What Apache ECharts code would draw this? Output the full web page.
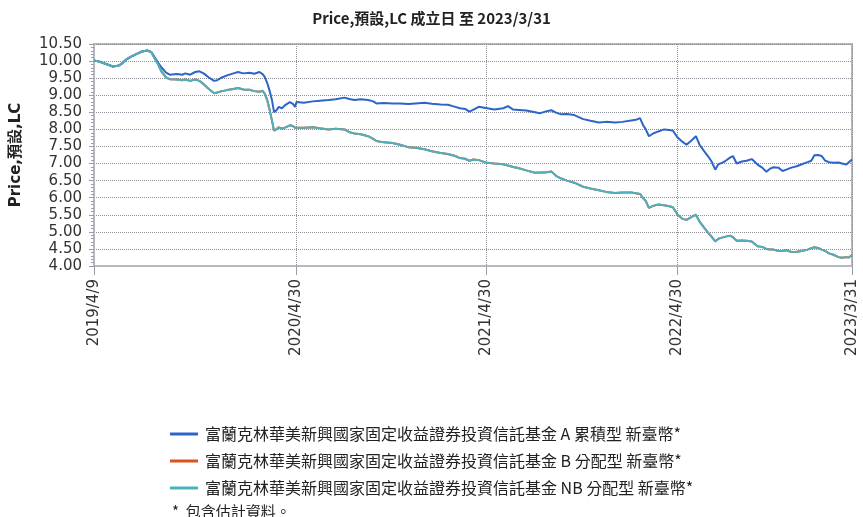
<!DOCTYPE html>
<html>
<head>
<meta charset="utf-8">
<script src="https://cdn.jsdelivr.net/npm/echarts@6/dist/echarts.min.js"></script>
<style>
  html, body { margin: 0; padding: 0; background: #fff; }
  #chart { width: 863px; height: 517px; }
</style>
</head>
<body>
<div id="chart"></div>
<script>
// ---- Data ----
const chartTitle = 'Price,預設,LC 成立日 至 2023/3/31';
const yAxisName = 'Price,預設,LC';
const seriesNames = [
  '富蘭克林華美新興國家固定收益證券投資信託基金 A 累積型 新臺幣*',
  '富蘭克林華美新興國家固定收益證券投資信託基金 B 分配型 新臺幣*',
  '富蘭克林華美新興國家固定收益證券投資信託基金 NB 分配型 新臺幣*'
];
const footnote = '*  包含估計資料。';
const xTickLabels = ['2019/4/9', '2020/4/30', '2021/4/30', '2022/4/30', '2023/3/31'];
const yTickLabels = ['4.00','4.50','5.00','5.50','6.00','6.50','7.00','7.50','8.00','8.50','9.00','9.50','10.00','10.50'];

const dates = [
  '2019-04-09','2019-04-20','2019-05-01','2019-05-15','2019-05-25','2019-06-01','2019-06-10','2019-06-20','2019-07-01','2019-07-10',
  '2019-07-20','2019-07-28','2019-08-03','2019-08-10','2019-08-16','2019-08-25','2019-09-01','2019-09-15','2019-09-25','2019-10-01',
  '2019-10-10','2019-10-20','2019-10-28','2019-11-05','2019-11-15','2019-11-25','2019-12-01','2019-12-10','2019-12-20',
  '2020-01-01','2020-01-10','2020-01-20','2020-02-01','2020-02-10','2020-02-20','2020-02-26',
  '2020-03-01','2020-03-06','2020-03-10','2020-03-15','2020-03-19','2020-03-23','2020-03-28',
  '2020-04-03','2020-04-10','2020-04-18','2020-04-24','2020-04-28',
  '2020-05-01','2020-05-15','2020-06-01','2020-06-15','2020-07-01','2020-07-15',
  '2020-08-01','2020-08-10','2020-08-20','2020-09-01','2020-09-15','2020-09-25',
  '2020-10-01','2020-10-15','2020-11-01','2020-11-15','2020-12-01','2020-12-15',
  '2021-01-01','2021-01-15','2021-02-01','2021-02-15','2021-03-01','2021-03-10','2021-03-20','2021-03-28',
  '2021-04-05','2021-04-15','2021-05-01','2021-05-15','2021-06-01','2021-06-10','2021-06-20',
  '2021-07-01','2021-07-15','2021-08-01','2021-08-10','2021-08-20','2021-09-01','2021-09-10','2021-09-20',
  '2021-10-01','2021-10-15','2021-11-01','2021-11-15','2021-12-01','2021-12-15',
  '2022-01-01','2022-01-15','2022-02-01','2022-02-10','2022-02-18','2022-02-24',
  '2022-03-01','2022-03-07','2022-03-15','2022-03-25','2022-04-05','2022-04-15','2022-04-22',
  '2022-05-01','2022-05-10','2022-05-18','2022-05-28','2022-06-05','2022-06-12','2022-06-20','2022-06-28',
  '2022-07-05','2022-07-12','2022-07-18','2022-07-25','2022-08-01','2022-08-10','2022-08-15','2022-08-22',
  '2022-09-01','2022-09-10','2022-09-20','2022-10-01','2022-10-10','2022-10-18','2022-10-25',
  '2022-11-01','2022-11-10','2022-11-18','2022-11-25','2022-12-05','2022-12-15','2022-12-25',
  '2023-01-05','2023-01-12','2023-01-18','2023-01-25','2023-02-01','2023-02-08','2023-02-15','2023-02-25',
  '2023-03-05','2023-03-12','2023-03-20','2023-03-25','2023-03-31'
];

const valuesA = [
  10.02, 9.98, 9.92, 9.84, 9.86, 9.92, 10.05, 10.14, 10.22, 10.28,
  10.31, 10.26, 10.12, 9.95, 9.82, 9.66, 9.60, 9.62, 9.60, 9.64,
  9.60, 9.68, 9.70, 9.64, 9.52, 9.42, 9.44, 9.52, 9.58,
  9.64, 9.68, 9.64, 9.66, 9.63, 9.68, 9.62,
  9.54, 9.35, 9.15, 8.85, 8.50, 8.55, 8.66,
  8.62, 8.72, 8.80, 8.75, 8.66,
  8.80, 8.78, 8.82, 8.84, 8.86, 8.88,
  8.93, 8.89, 8.86, 8.88, 8.86, 8.82,
  8.76, 8.77, 8.76, 8.76, 8.74, 8.76,
  8.78, 8.75, 8.73, 8.72, 8.66, 8.62, 8.60, 8.52,
  8.58, 8.66, 8.62, 8.58, 8.62, 8.68, 8.58,
  8.57, 8.55, 8.50, 8.47, 8.52, 8.56, 8.49, 8.44,
  8.45, 8.42, 8.30, 8.25, 8.20, 8.22,
  8.20, 8.22, 8.26, 8.28, 8.33, 8.12,
  8.00, 7.80, 7.88, 7.94, 8.00, 7.98, 7.96,
  7.76, 7.64, 7.55, 7.68, 7.80, 7.55, 7.38, 7.22,
  7.06, 6.82, 6.98, 7.02, 7.08, 7.18, 7.22, 7.00,
  7.06, 7.08, 7.13, 6.97, 6.88, 6.76, 6.85,
  6.89, 6.88, 6.78, 6.82, 6.88, 6.92, 6.98,
  7.04, 7.08, 7.24, 7.25, 7.22, 7.08, 7.04, 7.02,
  7.03, 7.00, 6.97, 7.04, 7.12
];

const valuesNB = [
  10.02, 9.98, 9.92, 9.84, 9.86, 9.92, 10.05, 10.14, 10.22, 10.28,
  10.31, 10.26, 10.08, 9.90, 9.70, 9.52, 9.47, 9.46, 9.44, 9.46,
  9.42, 9.46, 9.42, 9.32, 9.18, 9.06, 9.08, 9.12, 9.15,
  9.18, 9.21, 9.17, 9.16, 9.12, 9.10, 9.13,
  9.05, 8.85, 8.60, 8.25, 7.96, 8.00, 8.06,
  8.02, 8.06, 8.12, 8.10, 8.05,
  8.10, 8.05, 8.06, 8.03, 8.00, 8.02,
  8.00, 7.92, 7.88, 7.86, 7.80, 7.72,
  7.66, 7.62, 7.60, 7.55, 7.48, 7.46,
  7.42, 7.36, 7.31, 7.28, 7.22, 7.16, 7.14, 7.08,
  7.12, 7.10, 7.02, 7.00, 6.98, 6.94, 6.90,
  6.86, 6.80, 6.73, 6.74, 6.74, 6.77, 6.64, 6.56,
  6.50, 6.44, 6.32, 6.27, 6.22, 6.17,
  6.14, 6.15, 6.15, 6.13, 6.11, 5.98,
  5.90, 5.70, 5.76, 5.80, 5.78, 5.75, 5.72,
  5.50, 5.38, 5.35, 5.44, 5.50, 5.30, 5.14, 4.98,
  4.86, 4.72, 4.80, 4.83, 4.86, 4.89, 4.84, 4.74,
  4.75, 4.74, 4.72, 4.58, 4.56, 4.50, 4.48,
  4.48, 4.44, 4.44, 4.46, 4.41, 4.42, 4.44,
  4.48, 4.52, 4.55, 4.53, 4.48, 4.44, 4.37, 4.32,
  4.26, 4.24, 4.26, 4.25, 4.32
];

// B 分配型 is drawn underneath NB in the reference (hidden by it)
const valuesB = valuesNB;

const colors = ['#2c64c8', '#d9531e', '#4cb0bf'];

// ---- helpers ----
function parseDash(s) { const p = s.split('-').map(Number); return Date.UTC(p[0], p[1] - 1, p[2]); }
function parseSlash(s) { const p = s.split('/').map(Number); return Date.UTC(p[0], p[1] - 1, p[2]); }
function fmt(t) { const d = new Date(t); return d.getUTCFullYear() + '/' + (d.getUTCMonth() + 1) + '/' + d.getUTCDate(); }

const tickTimes = xTickLabels.map(parseSlash);
const toPairs = vals => dates.map((d, i) => [parseDash(d), vals[i]]);

const chart = echarts.init(document.getElementById('chart'), null, { renderer: 'canvas' });
const fontFam = '"DejaVu Sans", Verdana, sans-serif';
const cjkFam = '"Noto Sans CJK TC", "Noto Sans CJK SC", sans-serif';

chart.setOption({
  animation: false,
  backgroundColor: '#ffffff',
  title: {
    text: chartTitle,
    left: 'center',
    top: 6,
    textStyle: { fontSize: 15, fontWeight: 'bold', color: '#222', fontFamily: '"Noto Sans CJK TC", "DejaVu Sans", sans-serif' }
  },
  legend: {
    orient: 'vertical',
    left: 165,
    top: 421,
    itemGap: 11,
    itemWidth: 28,
    itemHeight: 3,
    icon: 'rect',
    textStyle: { fontSize: 16, color: '#222', fontFamily: cjkFam, padding: [0, 0, 0, 2] },
    data: seriesNames
  },
  graphic: [{
    type: 'text',
    left: 172,
    top: 504,
    style: { text: footnote, fontSize: 15, fill: '#222', fontFamily: cjkFam }
  }],
  grid: {
    left: 94, right: 11, top: 44, bottom: 251,
    show: true, borderColor: '#b6b9c0', borderWidth: 2, backgroundColor: 'transparent'
  },
  xAxis: {
    type: 'value',
    min: tickTimes[0],
    max: tickTimes[tickTimes.length - 1],
    axisLine: { lineStyle: { color: '#b6b9c0', width: 2 } },
    axisTick: { show: true, customValues: tickTimes, length: 9, lineStyle: { color: '#9a9da4', width: 1 } },
    axisLabel: {
      customValues: tickTimes,
      rotate: 90,
      margin: 13,
      formatter: v => fmt(v),
      fontSize: 15,
      color: '#333',
      fontFamily: fontFam,
      showMinLabel: true,
      showMaxLabel: true,
      hideOverlap: false
    },
    splitLine: { show: true, lineStyle: { color: '#8a8d94', type: 'dotted', width: 1 } }
  },
  yAxis: {
    type: 'value',
    min: 4,
    max: 10.5,
    interval: 0.5,
    name: yAxisName,
    nameLocation: 'middle',
    nameGap: 70,
    nameTextStyle: { fontSize: 15, fontWeight: 'bold', color: '#222', fontFamily: '"DejaVu Sans", "Noto Sans CJK TC", sans-serif' },
    axisLine: { show: true, lineStyle: { color: '#b6b9c0', width: 2 } },
    axisTick: { show: true, length: 5, lineStyle: { color: '#9a9da4' } },
    minorTick: { show: true, splitNumber: 5, length: 3, lineStyle: { color: '#9a9da4' } },
    axisLabel: {
      formatter: v => yTickLabels[Math.round((v - 4) / 0.5)],
      fontSize: 15,
      color: '#333',
      fontFamily: fontFam,
      margin: 12
    },
    splitLine: { show: true, lineStyle: { color: '#8a8d94', type: 'dotted', width: 1 } }
  },
  series: [
    { name: seriesNames[0], type: 'line', data: toPairs(valuesA), showSymbol: false, color: colors[0], lineStyle: { width: 2, color: colors[0] }, z: 3 },
    { name: seriesNames[1], type: 'line', data: toPairs(valuesB), showSymbol: false, color: colors[1], lineStyle: { width: 2, color: colors[1] }, z: 2 },
    { name: seriesNames[2], type: 'line', data: toPairs(valuesNB), showSymbol: false, color: colors[2], lineStyle: { width: 2, color: colors[2] }, z: 4 }
  ]
});
</script>
</body>
</html>
